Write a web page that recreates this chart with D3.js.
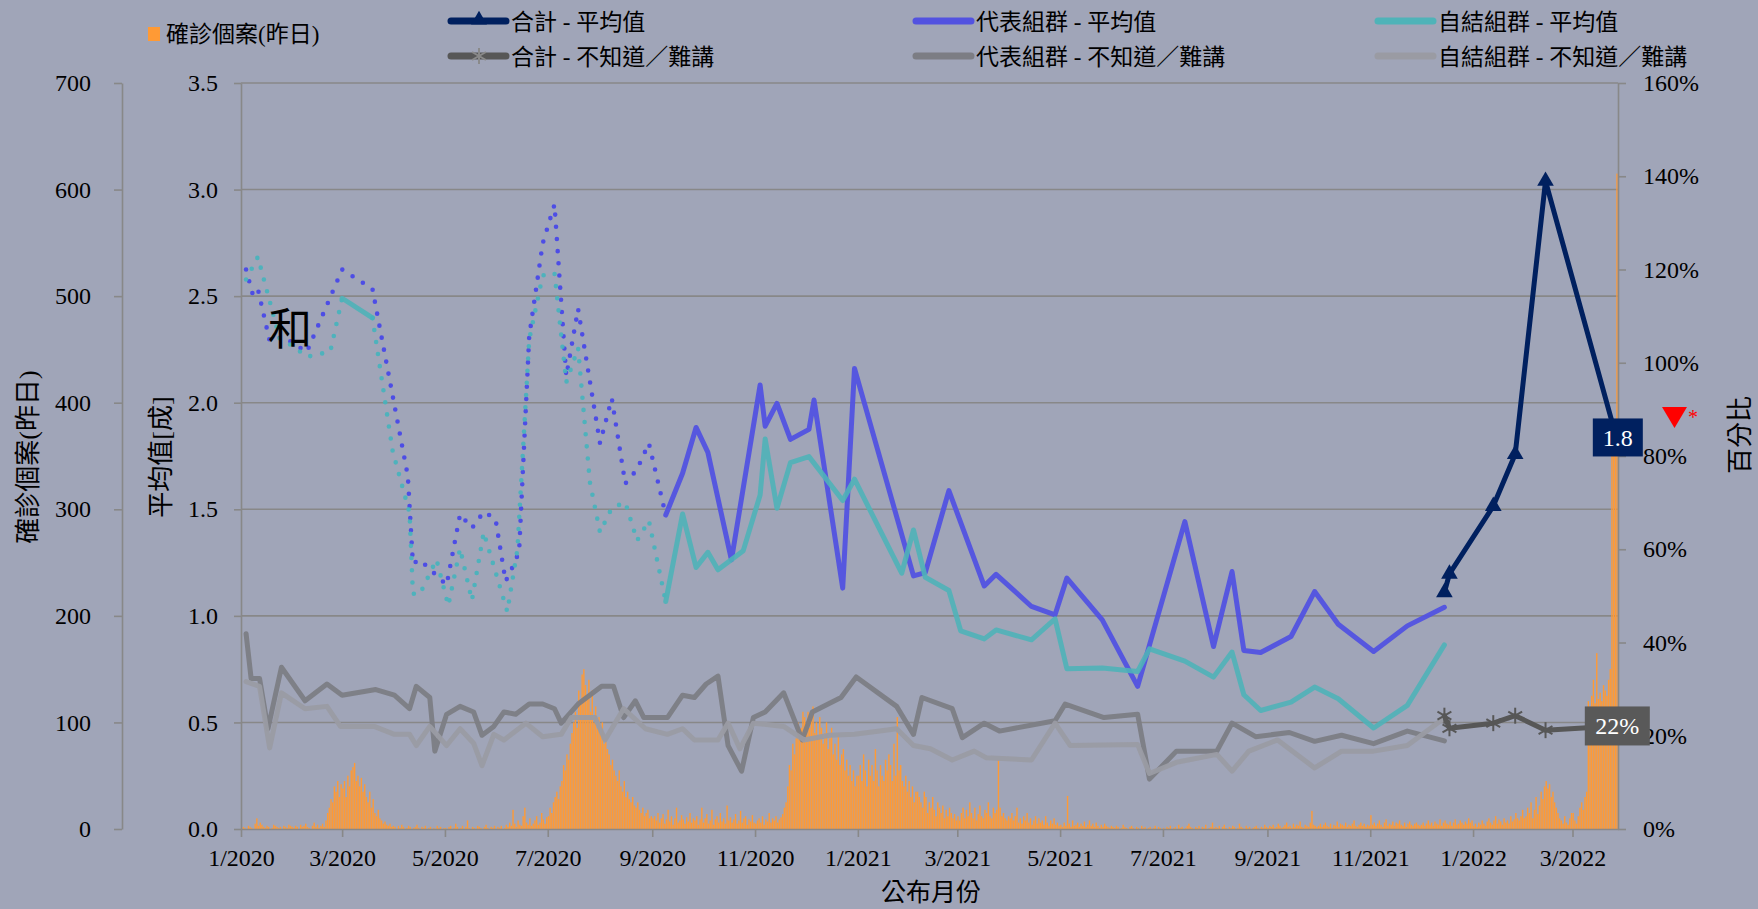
<!DOCTYPE html>
<html><head><meta charset="utf-8">
<script src="https://cdn.jsdelivr.net/npm/d3@7"></script>
<style>
html,body{margin:0;padding:0;background:#A0A5B8;}
svg{display:block;}
</style></head><body>
<svg id="chart" width="1758" height="909"></svg>
<script>
// ---------------- DATA ----------------
// Daily confirmed cases (previous day), from 2020-01-01
const cases2020 = [
 0,2,1,0,3,2,1,0,5,10,3,6,4,2,1,3,2,0,1,4,3,2,1,2,0,3,2,1,4,3,2,
 1,3,2,0,4,2,3,5,2,1,0,3,6,2,4,1,3,5,2,8,15,20,28,25,40,35,45,30,42,
 38,45,30,50,40,55,58,62,45,50,40,48,35,42,30,25,35,20,28,15,12,18,10,8,5,7,4,3,5,2,3,
 2,0,3,1,4,2,0,1,3,2,0,1,2,4,1,0,2,1,3,0,1,2,0,1,0,3,1,2,0,1,
 1,0,2,3,0,1,5,2,0,1,3,0,2,8,1,0,2,1,0,3,2,1,0,2,4,1,0,2,1,3,0,
 2,1,3,0,1,4,2,6,3,18,5,2,8,4,3,12,20,6,4,10,3,5,8,12,4,6,15,9,5,11,
 12,20,15,25,30,35,28,40,45,60,55,70,65,80,90,100,110,95,130,120,145,150,135,125,140,110,130,100,115,95,105,
 90,100,80,85,75,70,60,65,55,50,45,55,40,35,45,30,35,28,25,30,22,20,25,18,15,20,12,15,18,10,12,
 10,12,8,15,6,10,14,5,9,18,7,12,4,10,20,6,8,13,9,5,11,7,15,6,10,8,12,4,9,20,
 6,10,14,5,8,18,4,9,12,6,15,7,10,5,22,8,11,6,9,14,5,8,17,6,10,12,4,9,7,13,6,
 5,8,10,6,12,4,9,7,15,6,10,8,12,6,9,11,14,20,25,40,60,55,80,70,85,100,90,95,110,105,
 100,110,95,105,115,90,100,85,105,95,80,90,100,75,85,95,70,80,65,90,60,70,75,55,65,50,60,45,55,40,50
];
const cases2021 = [
 50,60,45,70,55,40,65,50,60,45,75,55,40,60,50,45,65,55,70,60,45,80,50,105,55,60,45,40,50,35,45,
 30,40,25,35,35,30,25,20,35,30,15,25,20,30,18,12,25,20,15,22,10,18,12,20,15,10,14,8,
 12,8,15,20,10,18,12,25,15,10,20,8,14,22,12,10,18,15,25,12,10,20,15,18,65,20,12,15,10,8,12,
 10,15,8,12,20,6,10,5,12,8,15,6,10,4,8,12,5,10,6,8,4,12,6,3,8,5,10,4,6,3,
 4,2,6,3,31,5,2,8,3,4,6,2,5,3,7,2,4,8,3,5,2,6,3,1,4,2,5,3,2,1,3,
 2,1,3,2,0,1,4,2,1,0,2,3,1,0,2,1,0,3,1,2,0,1,2,0,1,3,0,2,1,0,
 1,0,2,1,3,0,1,2,0,4,1,2,0,1,3,5,2,1,0,2,1,3,0,2,1,4,0,1,2,6,1,
 2,1,3,0,2,4,1,0,2,1,3,2,0,1,5,2,1,0,3,1,2,0,1,2,3,1,0,2,1,4,2,
 1,3,2,4,1,2,5,3,1,2,4,6,2,3,1,5,2,4,3,7,2,1,4,3,2,6,17,4,3,2,
 3,5,2,4,6,3,2,5,1,4,3,7,2,5,4,3,6,2,4,3,5,8,3,2,4,6,3,5,2,4,3,
 13,4,6,3,5,8,4,2,6,9,3,5,4,7,3,6,5,8,4,3,6,2,5,7,4,3,5,6,4,3,
 4,6,3,5,8,4,6,3,7,5,4,9,3,6,8,5,4,7,3,6,9,4,5,8,6,4,7,5,10,6,8
];
const cases2022 = [
 3,5,2,6,4,8,5,3,7,10,6,4,8,12,5,9,7,4,10,6,8,5,12,7,9,15,10,8,12,18,10,
 12,20,15,25,10,18,30,14,22,35,28,40,45,38,42,30,35,25,20,15,10,8,5,12,6,4,10,15,
 15,8,5,12,20,25,18,30,35,120,115,125,140,118,165,122,128,120,135,130,125,140,150,380,370,375,615
];

// 代表組群 - 平均值
const repDates = ["2020-01-04","2020-01-08","2020-01-11","2020-01-18","2020-01-26","2020-02-09","2020-03-01","2020-03-19","2020-04-09","2020-04-12","2020-04-16","2020-05-02","2020-05-10","2020-05-17","2020-05-24","2020-05-31","2020-06-06","2020-06-09","2020-06-14","2020-06-20","2020-06-28","2020-07-05","2020-07-12","2020-07-19","2020-08-01","2020-08-08","2020-08-16","2020-08-23","2020-08-30","2020-09-09","2020-09-19","2020-09-27","2020-10-04","2020-10-18","2020-11-04","2020-11-07","2020-11-14","2020-11-22","2020-12-03","2020-12-06","2020-12-23","2020-12-30","2021-02-03","2021-02-10","2021-02-24","2021-03-17","2021-03-24","2021-04-14","2021-04-28","2021-05-05","2021-05-26","2021-06-16","2021-07-14","2021-07-31","2021-08-11","2021-08-18","2021-08-28","2021-09-15","2021-09-29","2021-10-13","2021-11-03","2021-11-23","2021-12-15"];
const repMean = [2.625,2.507,2.534,2.29,2.31,2.237,2.625,2.534,1.655,1.245,1.264,1.145,1.477,1.411,1.488,1.455,1.162,1.209,1.30,2.312,2.747,2.93,2.124,2.44,1.81,2.02,1.62,1.6875,1.81,1.473,1.669,1.884,1.767,1.2625,2.083,1.89,1.997,1.828,1.875,2.0125,1.13,2.161,1.1875,1.203,1.5875,1.14,1.195,1.044,1.005,1.177,0.981,0.669,1.442,0.856,1.208,0.8375,0.828,0.903,1.114,0.961,0.833,0.953,1.04];

// 自結組群 - 平均值
const selfDates = ["2020-01-04","2020-01-11","2020-01-24","2020-02-01","2020-02-09","2020-02-23","2020-03-01","2020-03-19","2020-03-31","2020-04-10","2020-04-12","2020-04-16","2020-04-26","2020-05-03","2020-05-10","2020-05-17","2020-05-24","2020-06-07","2020-06-13","2020-06-20","2020-06-28","2020-07-05","2020-07-12","2020-07-19","2020-07-26","2020-08-01","2020-08-08","2020-08-16","2020-08-23","2020-08-30","2020-09-09","2020-09-19","2020-09-27","2020-10-04","2020-10-10","2020-10-25","2020-11-04","2020-11-07","2020-11-14","2020-11-22","2020-12-03","2020-12-23","2020-12-30","2021-01-27","2021-02-03","2021-02-10","2021-02-24","2021-03-03","2021-03-17","2021-03-24","2021-04-14","2021-04-28","2021-05-05","2021-05-26","2021-06-16","2021-06-23","2021-07-14","2021-07-31","2021-08-11","2021-08-18","2021-08-28","2021-09-15","2021-09-29","2021-10-13","2021-11-03","2021-11-23","2021-12-15"];
const selfMean = [2.578,2.684,2.30,2.265,2.215,2.24,2.49,2.398,1.772,1.483,1.104,1.10,1.264,1.048,1.316,1.072,1.392,1.02,1.311,2.296,2.597,2.609,2.096,2.257,1.627,1.392,1.506,1.533,1.353,1.447,1.067,1.478,1.227,1.298,1.216,1.306,1.567,1.83,1.505,1.719,1.747,1.541,1.641,1.2,1.403,1.181,1.119,0.930,0.892,0.934,0.8875,0.986,0.752,0.755,0.739,0.845,0.7875,0.7125,0.83,0.63,0.556,0.595,0.666,0.611,0.474,0.58,0.864];

// 合計 - 平均值 and 合計 - 不知道／難講
const totalDates = ["2021-12-15","2021-12-18","2022-01-13","2022-01-26","2022-02-13","2022-03-27"];
const totalMean = [1.11,1.197,1.515,1.758,3.04,1.837];
const totalDK = [0.243,0.216,0.227,0.243,0.212,0.221];

// 代表組群 - 不知道／難講
const repDKDates = ["2020-01-04","2020-01-07","2020-01-12","2020-01-17","2020-01-25","2020-02-08","2020-02-21","2020-03-01","2020-03-21","2020-04-01","2020-04-10","2020-04-14","2020-04-22","2020-04-25","2020-05-02","2020-05-10","2020-05-18","2020-05-23","2020-05-30","2020-06-05","2020-06-12","2020-06-20","2020-06-28","2020-07-05","2020-07-09","2020-07-19","2020-08-02","2020-08-09","2020-08-15","2020-08-22","2020-08-27","2020-09-10","2020-09-19","2020-09-26","2020-10-03","2020-10-10","2020-10-16","2020-10-24","2020-10-31","2020-11-07","2020-11-18","2020-11-29","2020-12-05","2020-12-22","2020-12-31","2021-01-24","2021-02-03","2021-02-08","2021-02-26","2021-03-04","2021-03-17","2021-03-26","2021-04-28","2021-05-04","2021-05-27","2021-06-16","2021-06-23","2021-07-09","2021-08-02","2021-08-11","2021-08-25","2021-09-14","2021-09-29","2021-10-15","2021-11-03","2021-11-23","2021-12-15"];
const repDK = [0.419,0.323,0.323,0.215,0.347,0.275,0.311,0.287,0.299,0.287,0.258,0.306,0.282,0.167,0.246,0.263,0.251,0.201,0.22,0.251,0.246,0.268,0.268,0.258,0.227,0.268,0.306,0.306,0.239,0.275,0.239,0.239,0.287,0.282,0.311,0.328,0.179,0.124,0.239,0.251,0.292,0.191,0.251,0.282,0.326,0.263,0.203,0.282,0.258,0.196,0.227,0.21,0.232,0.268,0.239,0.246,0.107,0.167,0.167,0.227,0.198,0.207,0.188,0.201,0.183,0.21,0.189];

// 自結組群 - 不知道／難講
const selfDKDates = ["2020-01-04","2020-01-12","2020-01-18","2020-01-25","2020-02-08","2020-02-21","2020-02-29","2020-03-20","2020-04-01","2020-04-10","2020-04-14","2020-04-22","2020-05-02","2020-05-10","2020-05-18","2020-05-23","2020-05-30","2020-06-05","2020-06-18","2020-06-28","2020-07-09","2020-07-15","2020-07-29","2020-08-04","2020-08-15","2020-08-28","2020-09-10","2020-09-19","2020-09-26","2020-10-10","2020-10-16","2020-10-23","2020-10-31","2020-11-18","2020-11-30","2020-12-15","2020-12-30","2021-01-14","2021-01-24","2021-02-03","2021-02-13","2021-02-26","2021-03-11","2021-03-18","2021-04-14","2021-04-28","2021-05-07","2021-06-16","2021-06-23","2021-07-09","2021-08-02","2021-08-11","2021-08-21","2021-09-07","2021-09-29","2021-10-15","2021-11-03","2021-11-23","2021-12-15"];
const selfDK = [0.316,0.306,0.174,0.292,0.258,0.263,0.22,0.22,0.203,0.203,0.179,0.22,0.179,0.215,0.184,0.136,0.203,0.191,0.227,0.198,0.203,0.239,0.239,0.191,0.258,0.215,0.203,0.215,0.191,0.191,0.227,0.172,0.227,0.22,0.191,0.201,0.203,0.21,0.215,0.179,0.172,0.148,0.167,0.153,0.148,0.227,0.179,0.181,0.119,0.143,0.16,0.124,0.167,0.191,0.131,0.167,0.167,0.179,0.238];

const avgTicks = [0,0.5,1,1.5,2,2.5,3,3.5];
const caseTicks = [0,100,200,300,400,500,600,700];
const pctTicks = [0,0.2,0.4,0.6,0.8,1.0,1.2,1.4,1.6];
const monthTicks = ["2020-01-01","2020-03-01","2020-05-01","2020-07-01","2020-09-01","2020-11-01","2021-01-01","2021-03-01","2021-05-01","2021-07-01","2021-09-01","2021-11-01","2022-01-01","2022-03-01"];

const legendBar = "確診個案(昨日)";
const legendLines = ["合計 - 平均值","代表組群 - 平均值","自結組群 - 平均值","合計 - 不知道／難講","代表組群 - 不知道／難講","自結組群 - 不知道／難講"];
const titleCases = "確診個案(昨日)";
const titleAvg = "平均值[成]";
const titlePct = "百分比";
const titleX = "公布月份";
const noteChar = "和";

// ---------------- CHART ----------------
const W=1758,H=909;
const BG="#A0A5B8", GRID="#888888", ORANGE="#FF9A35", NAVY="#00205F", BLUE="#5252E0", CYAN="#4FB3B8",
      DK_TOTAL="#575757", DK_REP="#7C7D84", DK_SELF="#9A9BA3";
const FONT="'Liberation Serif','Noto Sans CJK TC',serif";
const parse=d3.timeParse("%Y-%m-%d");
const svg=d3.select("#chart").style("font-family",FONT);
svg.append("rect").attr("width",W).attr("height",H).attr("fill",BG);

const L=241,R=1618,T=83,B=829;
const x=d3.scaleTime().domain([new Date(2020,0,1),new Date(2022,2,28)]).range([L,R]);
const yAvg=d3.scaleLinear().domain([0,3.5]).range([B,T]);
const yCase=d3.scaleLinear().domain([0,700]).range([B,T]);
const yPct=d3.scaleLinear().domain([0,1.6]).range([B,T]);

// gridlines
svg.append("g").selectAll("line").data(avgTicks.filter(d=>d>0)).join("line")
  .attr("x1",L).attr("x2",R).attr("y1",d=>yAvg(d)).attr("y2",d=>yAvg(d))
  .attr("stroke",GRID).attr("stroke-width",1.6);

// bars
const allCases=[...cases2020,...cases2021,...cases2022];
const start=new Date(2020,0,1);
const barData=allCases.map((v,i)=>({date:d3.timeDay.offset(start,i),v}));
const step=x(d3.timeDay.offset(start,1))-x(start);
svg.append("g").selectAll("rect").data(barData).join("rect")
  .attr("x",d=>x(d.date)).attr("width",Math.max(1,step*0.82))
  .attr("y",d=>yCase(d.v)).attr("height",d=>B-yCase(d.v)).attr("fill",ORANGE);

function styleAxis(g){
  g.select(".domain").attr("stroke",GRID).attr("stroke-width",1.6);
  g.selectAll(".tick line").attr("stroke",GRID).attr("stroke-width",1.6);
  g.selectAll(".tick text").attr("fill","#000").style("font-family",FONT).style("font-size","24px");
}
// left cases axis
svg.append("g").attr("transform",`translate(122,0)`)
  .call(d3.axisLeft(yCase).tickValues(caseTicks).tickSize(8).tickSizeOuter(0).tickPadding(23).tickFormat(d3.format("d")))
  .call(styleAxis);
// average axis
svg.append("g").attr("transform",`translate(${L},0)`)
  .call(d3.axisLeft(yAvg).tickValues(avgTicks).tickSize(7).tickSizeOuter(0).tickPadding(16).tickFormat(d3.format(".1f")))
  .call(styleAxis);
// right pct axis
svg.append("g").attr("transform",`translate(${R},0)`)
  .call(d3.axisRight(yPct).tickValues(pctTicks).tickSize(8).tickSizeOuter(0).tickPadding(17).tickFormat(d3.format(".0%")))
  .call(styleAxis);
// x axis
svg.append("g").attr("transform",`translate(0,${B})`)
  .call(d3.axisBottom(x).tickValues(monthTicks.map(parse)).tickSize(8).tickSizeOuter(0).tickPadding(12).tickFormat(d3.timeFormat("%-m/%Y")))
  .call(styleAxis);

// axis titles
svg.append("text").attr("transform","translate(28,457) rotate(-90)").attr("text-anchor","middle").attr("dy","0.35em")
  .style("font-size","26px").text(titleCases);
svg.append("text").attr("transform","translate(161,457) rotate(-90)").attr("text-anchor","middle").attr("dy","0.35em")
  .style("font-size","26px").text(titleAvg);
svg.append("text").attr("transform","translate(1740,435) rotate(-90)").attr("text-anchor","middle").attr("dy","0.35em")
  .style("font-size","26px").text(titlePct);
svg.append("text").attr("x",931).attr("y",892).attr("text-anchor","middle").attr("dy","0.35em")
  .style("font-size","25px").text(titleX);

// series helpers
const mk=(dates,vals)=>dates.map((d,i)=>({date:parse(d),v:vals[i]}));
const lineAvg=d3.line().x(d=>x(d.date)).y(d=>yAvg(d.v));
const linePct=d3.line().x(d=>x(d.date)).y(d=>yPct(d.v));
const rep=mk(repDates,repMean), self=mk(selfDates,selfMean);
const tot=mk(totalDates,totalMean), totDK=mk(totalDates,totalDK);
const repdk=mk(repDKDates,repDK), selfdk=mk(selfDKDates,selfDK);
const solidFrom=parse("2020-09-09");
const segA=parse("2020-03-01"), segB=parse("2020-03-19");

function solid(g,data,gen,color,w,op){
  g.append("path").datum(data).attr("d",gen).attr("fill","none").attr("stroke",color)
   .attr("stroke-width",w).attr("stroke-linejoin","round").attr("stroke-linecap","round").attr("opacity",op||1);
}
function dotted(g,data,gen,color){
  g.append("path").datum(data).attr("d",gen).attr("fill","none").attr("stroke",color)
   .attr("stroke-width",4.6).attr("stroke-linecap","round").attr("stroke-dasharray","0 12.2").attr("opacity",0.9);
}
const gl=svg.append("g");
// "don't know" lines (pct axis)
solid(gl,repdk,linePct,DK_REP,5,0.95);
solid(gl,selfdk,linePct,DK_SELF,5,0.95);

// mean lines
dotted(gl,rep.filter(d=>d.date<=solidFrom),lineAvg,"#4444EA");
solid(gl,rep.filter(d=>d.date>=solidFrom),lineAvg,BLUE,5,0.95);
dotted(gl,self.filter(d=>d.date<=segA),lineAvg,"#45B4BC");
solid(gl,self.filter(d=>d.date>=segA&&d.date<=segB),lineAvg,CYAN,5,0.9);
dotted(gl,self.filter(d=>d.date>=segB&&d.date<=solidFrom),lineAvg,"#45B4BC");
solid(gl,self.filter(d=>d.date>=solidFrom),lineAvg,CYAN,5,0.9);

// totals
solid(gl,totDK,linePct,DK_TOTAL,5);
solid(gl,tot,lineAvg,NAVY,5);
const tri=d3.symbol(d3.symbolTriangle,120);
gl.append("g").selectAll("path").data(tot.slice(0,-1)).join("path")
  .attr("transform",d=>`translate(${x(d.date)},${yAvg(d.v)})`).attr("d",tri).attr("fill",NAVY);
function asterisk(g,cx,cy,s,color){
  const a=g.append("g").attr("transform",`translate(${cx},${cy})`);
  [90,30,150].forEach(ang=>{const r=ang*Math.PI/180;
    a.append("line").attr("x1",-s*Math.cos(r)).attr("y1",-s*Math.sin(r)).attr("x2",s*Math.cos(r)).attr("y2",s*Math.sin(r))
     .attr("stroke",color).attr("stroke-width",2);});
}
totDK.slice(0,-1).forEach(d=>asterisk(gl,x(d.date),yPct(d.v),8,DK_TOTAL));

// end labels
const lastT=tot[tot.length-1], lastD=totDK[totDK.length-1];
function box(cx,cy,w,h,fill,txt){
  svg.append("rect").attr("x",cx-w/2).attr("y",cy-h/2).attr("width",w).attr("height",h).attr("fill",fill);
  svg.append("text").attr("x",cx).attr("y",cy).attr("dy","0.35em").attr("text-anchor","middle")
   .attr("fill","#fff").style("font-size","24px").text(txt);
}
box(x(lastT.date)+1.5,yAvg(lastT.v),50,38,NAVY,d3.format(".1f")(lastT.v));
box(x(lastD.date)+1,yPct(lastD.v),65,39,"#595959",d3.format(".0%")(lastD.v));

// red marker
svg.append("path").attr("d","M1662,407 L1687,407 L1674.5,428 Z").attr("fill","#FF0000");
svg.append("text").attr("x",1688).attr("y",424).attr("fill","#FF0000").style("font-size","20px").text("*");

// note char
svg.append("text").attr("x",290).attr("y",330).attr("dy","0.35em").attr("text-anchor","middle")
  .style("font-size","44px").attr("fill","#000").text(noteChar);

// legend
svg.append("rect").attr("x",148).attr("y",27).attr("width",12).attr("height",14).attr("fill",ORANGE);
svg.append("text").attr("x",166).attr("y",34).attr("dy","0.35em").style("font-size","23px").text(legendBar);
const legCols=[451,916,1378], legRows=[21,56];
const legColors=[NAVY,BLUE,CYAN,DK_TOTAL,DK_REP,DK_SELF];
legendLines.forEach((lab,i)=>{
  const cx=legCols[i%3], cy=legRows[Math.floor(i/3)];
  svg.append("line").attr("x1",cx).attr("x2",cx+55).attr("y1",cy).attr("y2",cy)
    .attr("stroke",legColors[i]).attr("stroke-width",7).attr("stroke-linecap","round");
  if(i===0) svg.append("path").attr("transform",`translate(${cx+28},${cy-1})`).attr("d",d3.symbol(d3.symbolTriangle,110)()).attr("fill",NAVY);
  if(i===3) asterisk(svg,cx+28,cy,8,"#8a8a8a");
  svg.append("text").attr("x",cx+60).attr("y",cy+1).attr("dy","0.35em").style("font-size","23px").text(lab);
});
</script>
</body></html>
